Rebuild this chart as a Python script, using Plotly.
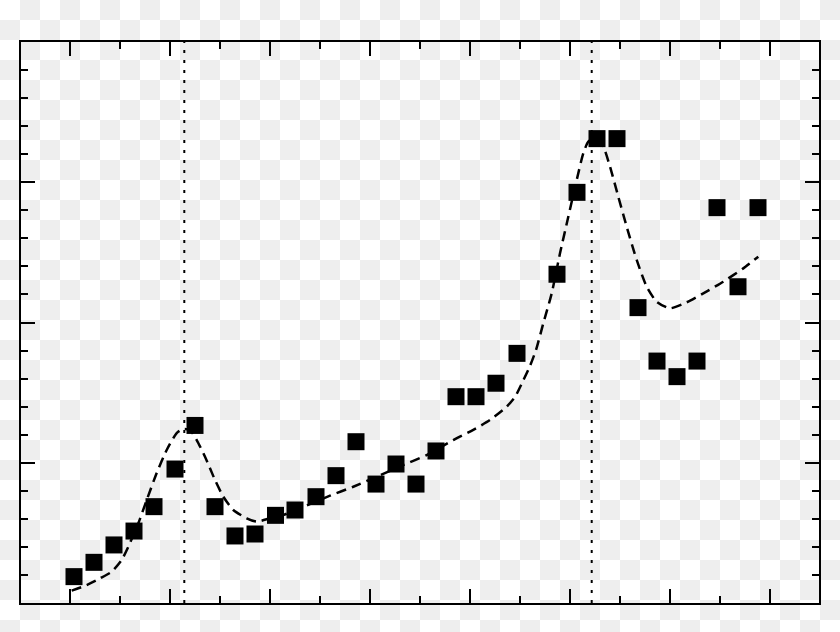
import base64
import plotly.graph_objects as go

# ---- data ----
obs_x = [0.04, 0.24, 0.44, 0.64, 0.84, 1.05, 1.25, 1.45, 1.65, 1.85, 2.055, 2.25,
         2.46, 2.66, 2.86, 3.06, 3.26, 3.46, 3.66, 3.86, 4.06, 4.26, 4.47, 4.87,
         5.07, 5.27, 5.47, 5.68, 5.87, 6.07, 6.27, 6.47, 6.68, 6.88]
obs_y = [0.188, 0.290, 0.414, 0.513, 0.687, 0.955, 1.266, 0.687, 0.478, 0.492, 0.625, 0.663,
         0.758, 0.908, 1.150, 0.848, 0.991, 0.848, 1.084, 1.471, 1.471, 1.567, 1.780, 2.344,
         2.928, 3.311, 3.311, 2.106, 1.725, 1.614, 1.725, 2.819, 2.255, 2.819]

fit_x = [0.017, 0.167, 0.30, 0.417, 0.517, 0.583, 0.683, 0.767, 0.867, 0.967, 1.067, 1.133,
         1.20, 1.267, 1.35, 1.45, 1.533, 1.633, 1.767, 1.867, 2.00, 2.133, 2.30, 2.60,
         2.833, 3.067, 3.333, 3.567, 3.833, 4.033, 4.20, 4.367, 4.45, 4.53, 4.60, 4.66,
         4.733, 4.817, 4.90, 4.983, 5.067, 5.133, 5.183, 5.25, 5.333, 5.40, 5.483, 5.567,
         5.667, 5.767, 5.867, 6.00, 6.167, 6.333, 6.533, 6.733, 6.883]
fit_y = [0.088, 0.128, 0.176, 0.223, 0.307, 0.401, 0.568, 0.734, 0.927, 1.091, 1.212, 1.241,
         1.234, 1.162, 1.043, 0.877, 0.758, 0.663, 0.604, 0.580, 0.604, 0.627, 0.675, 0.765,
         0.829, 0.901, 0.984, 1.055, 1.162, 1.234, 1.305, 1.400, 1.469, 1.583, 1.690, 1.804,
         1.994, 2.208, 2.493, 2.754, 3.016, 3.206, 3.289, 3.313, 3.254, 3.111, 2.897, 2.683,
         2.446, 2.255, 2.148, 2.101, 2.144, 2.208, 2.291, 2.386, 2.469]

peak_positions = [1.143, 5.217]

x_range = [-0.49, 7.49]
y_range = [0, 4]

# ---- figure ----
W, H = 840, 632
ML, MR, MT, MB = 21, 21, 42, 29
PW, PH = W - ML - MR, H - MT - MB

# transparent-looking checkerboard backdrop
svg = (f'<svg xmlns="http://www.w3.org/2000/svg" width="{W}" height="{H}">'
       '<defs><pattern id="p" width="40" height="40" patternUnits="userSpaceOnUse">'
       '<rect width="40" height="40" fill="#ffffff"/>'
       '<rect x="20" y="0" width="20" height="20" fill="#eeeeee"/>'
       '<rect x="0" y="20" width="20" height="20" fill="#eeeeee"/>'
       '</pattern></defs><rect width="100%" height="100%" fill="url(#p)"/></svg>')
src = "data:image/svg+xml;base64," + base64.b64encode(svg.encode()).decode()

fig = go.Figure()

fig.add_trace(go.Scatter(
    x=fit_x, y=fit_y, mode="lines",
    line=dict(color="black", width=2.5, dash="10px,6px", shape="spline", smoothing=0.6),
    hoverinfo="skip", showlegend=False))

fig.add_trace(go.Scatter(
    x=obs_x, y=obs_y, mode="markers",
    marker=dict(symbol="square", size=17, color="black", line=dict(width=0)),
    showlegend=False))

for xp in peak_positions:
    fig.add_shape(type="line", xref="x", yref="paper", x0=xp, x1=xp, y0=0, y1=1,
                  line=dict(color="black", width=2, dash="3px,7px"), layer="above")

axis_common = dict(
    showgrid=False, zeroline=False, showticklabels=False,
    showline=True, linecolor="black", linewidth=2, mirror="ticks",
    ticks="inside", tickcolor="black", tickwidth=2, ticklen=14,
)

fig.update_xaxes(range=x_range, tick0=0, dtick=1,
                 minor=dict(ticks="inside", ticklen=7, tickwidth=2, tickcolor="black", dtick=0.5, tick0=0, showgrid=False),
                 **axis_common)
fig.update_yaxes(range=y_range, tick0=0, dtick=1,
                 minor=dict(ticks="inside", ticklen=7, tickwidth=2, tickcolor="black", dtick=0.2, tick0=0, showgrid=False),
                 **axis_common)

fig.add_layout_image(dict(
    source=src, xref="paper", yref="paper",
    x=-ML / PW, y=1 + MT / PH, sizex=W / PW, sizey=H / PH,
    xanchor="left", yanchor="top", sizing="stretch", layer="below"))

fig.update_layout(
    width=W, height=H,
    margin=dict(l=ML, r=MR, t=MT, b=MB, pad=0),
    paper_bgcolor="white", plot_bgcolor="rgba(0,0,0,0)",
    showlegend=False,
)

fig.write_html("out.html", config={"displayModeBar": False},
               post_script="document.body.style.margin='0';document.body.style.overflow='hidden';")
